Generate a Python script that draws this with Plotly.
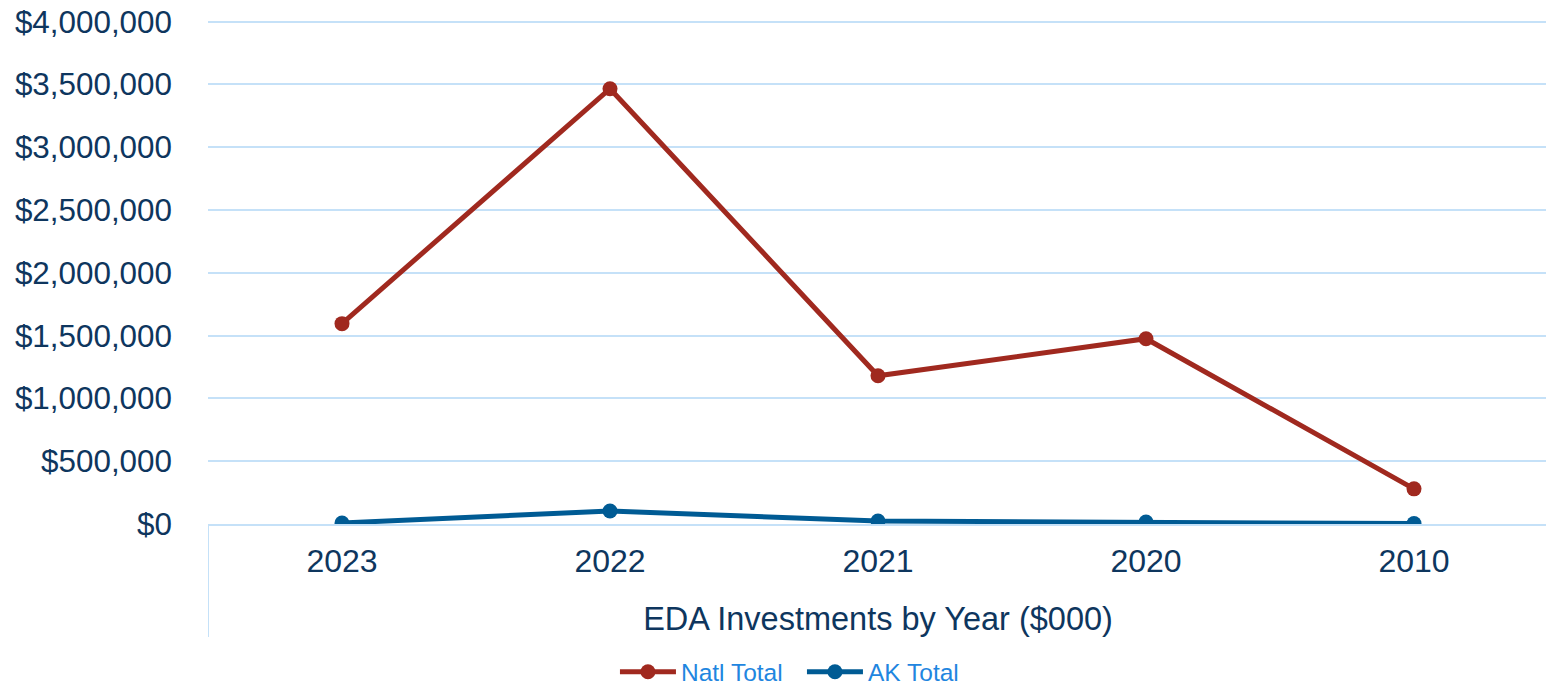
import plotly.graph_objects as go

years = ["2023", "2022", "2021", "2020", "2010"]
natl_total = [1595000, 3465000, 1180000, 1475000, 280000]
ak_total = [8000, 104000, 24000, 16000, 3000]
y_ticks = [0, 500000, 1000000, 1500000, 2000000, 2500000, 3000000, 3500000, 4000000]

RED = "#A0291F"
BLUE = "#005B94"
TEXT = "#0E365E"
GRID = "#C5E1F8"

fig = go.Figure()
fig.add_trace(go.Scatter(x=years, y=natl_total, name="Natl Total", mode="lines+markers",
                         line=dict(color=RED, width=5), marker=dict(size=15, color=RED)))
fig.add_trace(go.Scatter(x=years, y=ak_total, name="AK Total", mode="lines+markers",
                         line=dict(color=BLUE, width=5), marker=dict(size=15, color=BLUE)))

for xb in [-0.5, 4.5]:
    fig.add_shape(type="line", xref="x", yref="paper", x0=xb, x1=xb, y0=0, y1=-0.224,
                  line=dict(color=GRID, width=2), layer="below")

fig.update_layout(
    width=1554, height=685,
    margin=dict(l=200, r=14, t=11.5, b=169, autoexpand=False),
    paper_bgcolor="white", plot_bgcolor="white",
    font=dict(family="Liberation Sans, Arial, sans-serif", color=TEXT),
    showlegend=True,
    legend=dict(orientation="h", x=0.3037, xanchor="left", y=-0.2934, yanchor="middle",
                font=dict(size=24.5, color="#1F86E0"), itemwidth=56, entrywidth=116,
                traceorder="normal", bgcolor="rgba(0,0,0,0)"),
    xaxis=dict(type="category", range=[-0.5, 4.5], showgrid=False, zeroline=False,
               showline=True, linecolor=GRID, linewidth=2, ticks="", automargin=False,
               tickfont=dict(size=32, color=TEXT), ticklabelstandoff=8,
               title=dict(text="EDA Investments by Year ($000)", font=dict(size=32.5, color=TEXT), standoff=29)),
    yaxis=dict(range=[0, 4012000], tickvals=y_ticks, tickformat="$,.0f", automargin=False,
               ticklabeloverflow="allow",
               showgrid=True, gridcolor=GRID, gridwidth=2, zeroline=False, showline=False,
               tickfont=dict(size=31.4, color=TEXT), ticklabelstandoff=35),
)

fig.write_html("out.html")
